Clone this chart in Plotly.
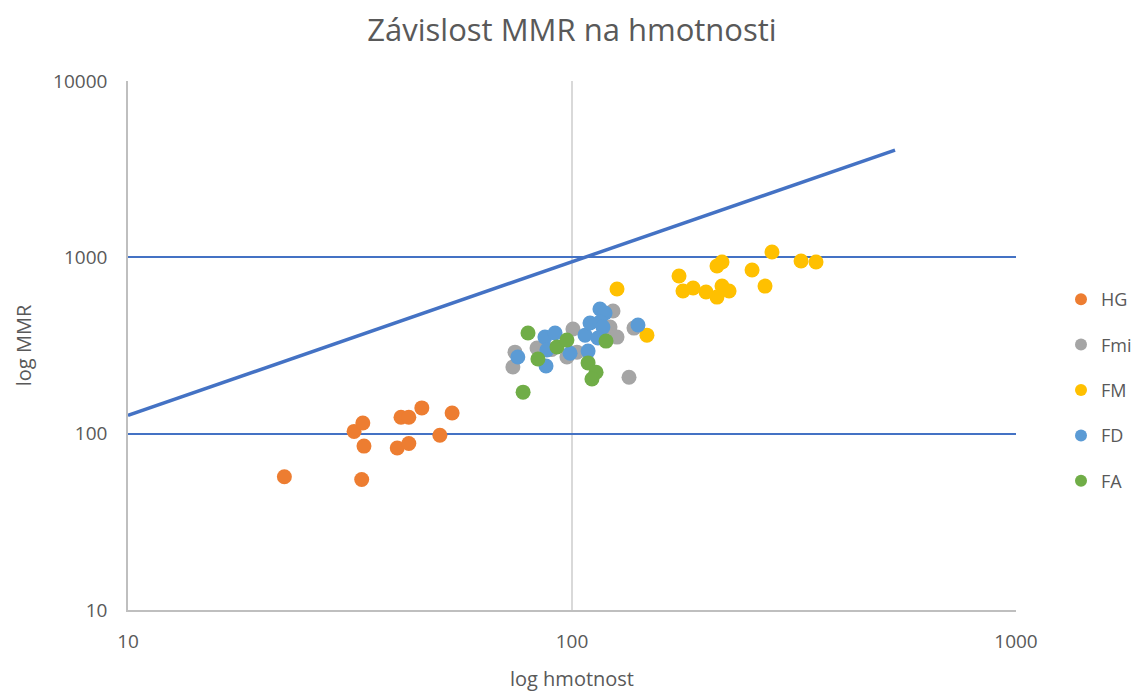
import plotly.graph_objects as go

title_text = "Závislost MMR na hmotnosti"
x_title = "log hmotnost"
y_title = "log MMR"

x_tick_vals = [10, 100, 1000]
x_tick_text = ["10", "100", "1000"]
y_tick_vals = [10, 100, 1000, 10000]
y_tick_text = ["10", "100", "1000", "10000"]

hg_x = [22.5, 32.3, 33.8, 34.0, 33.6, 41.2, 42.9, 45.9, 53.7, 50.4, 40.4, 42.9]
hg_y = [57, 103, 115, 85, 55, 124, 124, 140, 131, 98, 83, 88]

fmi_x = [74.4, 73.6, 83.4, 100.5, 97.4, 102.6, 123.7, 121.8, 126.3, 137.9, 134.4, 90.0, 117.0]
fmi_y = [290, 239, 306, 392, 272, 290, 496, 402, 353, 397, 209, 300, 355]

fm_x = [126.3, 147.5, 174.2, 177.8, 187.4, 200.4, 212.1, 217.7, 225.8, 212.1, 217.7, 254.4, 272.1, 282.1, 328, 354.5]
fm_y = [661, 362, 783, 644, 670, 636, 595, 687, 644, 893, 940, 847, 687, 1072, 953, 940]

fd_x = [75.5, 86.9, 91.6, 87.8, 87.4, 99.0, 108.7, 107.0, 109.8, 115.6, 118.7, 115.6, 117.4, 114.4, 140.8]
fd_y = [272, 353, 372, 298, 242, 286, 294, 362, 424, 509, 483, 430, 402, 349, 413]

fa_x = [79.6, 83.8, 92.5, 97.4, 108.7, 113.3, 110.9, 119.3, 77.6]
fa_y = [372, 265, 310, 340, 252, 223, 204, 335, 172]

trend_x = [10, 534]
trend_y = [127, 4060]

series = [
    ("HG", hg_x, hg_y, "#ED7D31"),
    ("Fmi", fmi_x, fmi_y, "#A5A5A5"),
    ("FM", fm_x, fm_y, "#FFC000"),
    ("FD", fd_x, fd_y, "#5B9BD5"),
    ("FA", fa_x, fa_y, "#70AD47"),
]

font_family = "Open Sans, Lato, sans-serif"
text_color = "#595959"

fig = go.Figure()
fig.add_trace(go.Scatter(x=trend_x, y=trend_y, mode="lines",
                         line=dict(color="#4472C4", width=3.5),
                         showlegend=False, hoverinfo="skip"))
for name, xs, ys, col in series:
    fig.add_trace(go.Scatter(x=xs, y=ys, mode="markers", name=name,
                             legendgroup=name,
                             marker=dict(color=col, size=15, line=dict(width=0))))

fig.update_layout(
    width=1139, height=692,
    paper_bgcolor="white", plot_bgcolor="white",
    margin=dict(l=120, r=131, t=73, b=90, autoexpand=False),
    font=dict(family=font_family, size=19, color=text_color),
    title=dict(text=title_text, x=0.5, xref="paper", y=1 - 22 / 692, yref="container",
               xanchor="center", yanchor="middle",
               font=dict(size=31, color=text_color, family=font_family)),
    legend=dict(xref="container", yref="container", x=1053 / 1139, y=1 - 382 / 692,
                xanchor="left", yanchor="middle", tracegroupgap=19,
                font=dict(size=18, color=text_color), itemsizing="constant"),
    showlegend=True,
)
fig.update_xaxes(type="log", range=[1, 3], tickvals=x_tick_vals, ticktext=x_tick_text,
                 showgrid=True, gridcolor="#D9D9D9", gridwidth=1.5,
                 showline=True, linecolor="#BFBFBF", linewidth=1.5,
                 ticks="", ticklabelstandoff=13, zeroline=False, automargin=False,
                 title=dict(text=x_title, standoff=19, font=dict(size=20)))
fig.update_yaxes(type="log", range=[1, 4], tickvals=y_tick_vals, ticktext=y_tick_text,
                 showgrid=True, gridcolor="#4472C4", gridwidth=1.5,
                 showline=True, linecolor="#BFBFBF", linewidth=1.5,
                 ticks="", ticklabelstandoff=15, zeroline=False, automargin=False,
                 title=dict(text=y_title, standoff=16, font=dict(size=20)))

fig.write_html("out.html")
